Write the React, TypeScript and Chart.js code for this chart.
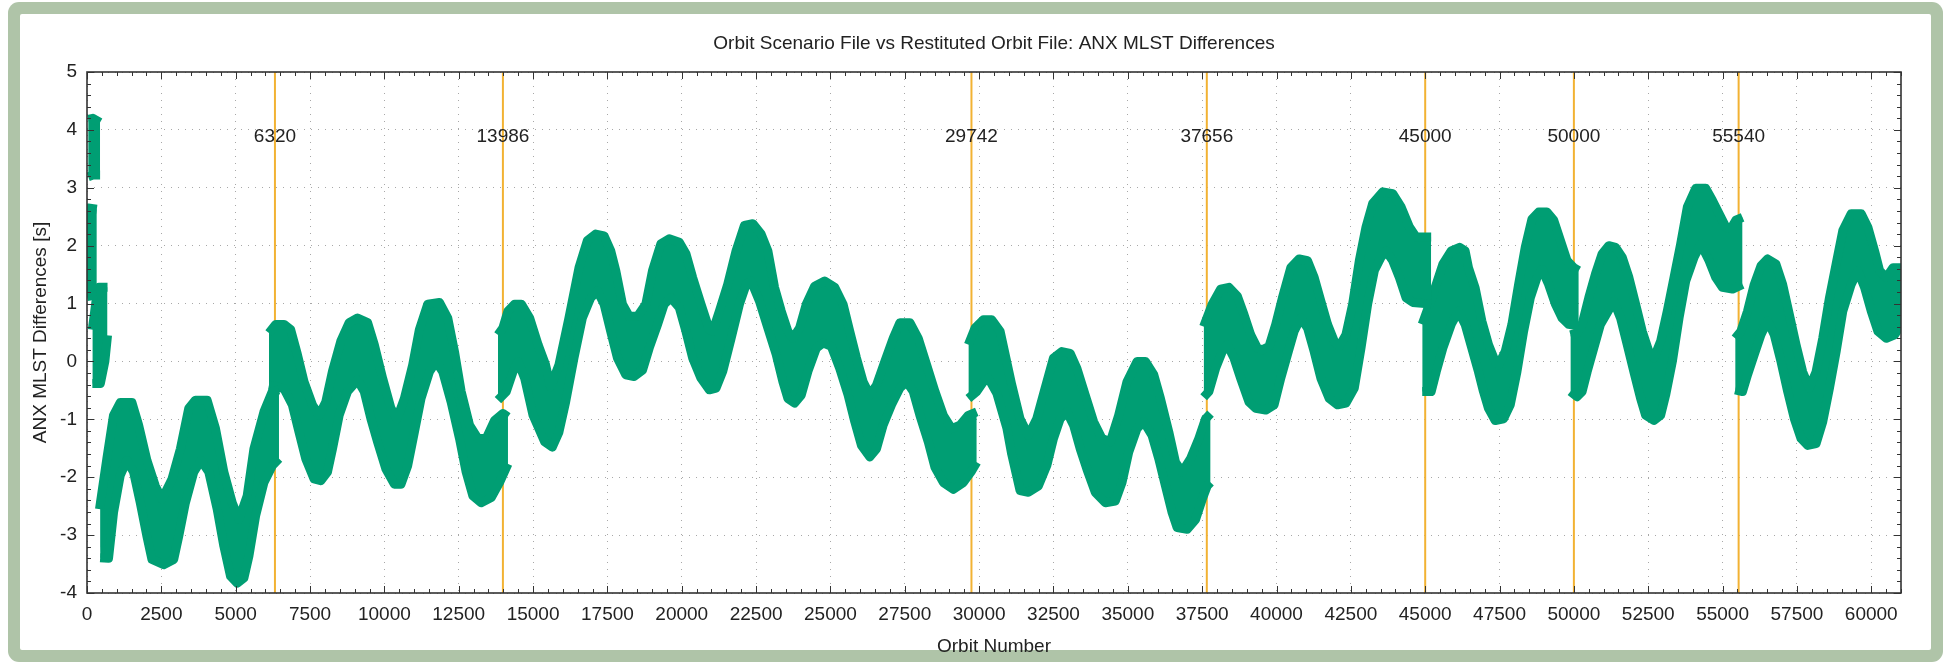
import { useEffect, useRef } from 'react';
import { Chart, registerables } from 'chart.js';

Chart.register(...registerables);

const TITLE = 'Orbit Scenario File vs Restituted Orbit File: ANX MLST Differences';
const X_TITLE = 'Orbit Number';
const Y_TITLE = 'ANX MLST Differences [s]';
const X_MIN = 0;
const X_MAX = 61000;
const Y_MIN = -4;
const Y_MAX = 5;
const X_MAJOR = 2500;
const X_MINOR = 500;
const Y_MAJOR = 1;
const Y_MINOR = 0.2;
const X_LAST_LABEL = 60000;

// vertical event markers (orbit numbers)
const MARKERS = [6320, 13986, 29742, 37656, 45000, 50000, 55540];
const MARKER_LABEL_Y = 3.88;

// Band envelopes per continuous segment: [orbit, value]
const A_TOP: number[][] = [[40, 4.18], [200, 4.2], [440, 4.13]];
const A_BOT: number[][] = [[40, 3.19], [200, 3.22], [440, 3.22]];

const B_TOP: number[][] = [[0, 1.98], [40, 2.65], [330, 2.63]];
const B_BOT: number[][] = [[0, 1.12], [330, 1.15]];

const C_TOP: number[][] = [[180, 0.55], [300, 1.03], [400, 1.28], [690, 1.28]];
const C_BOT: number[][] = [[180, -0.38], [450, -0.38], [600, 0.0], [690, 0.45]];

const D_TOP: number[][] = [
  [420, -2.55], [668, -1.68], [892, -0.93], [1117, -0.71], [1511, -0.71], [1735, -1.1],
  [2016, -1.71], [2297, -2.15], [2522, -2.38], [2859, -2.03], [3140, -1.51], [3421, -0.81],
  [3646, -0.67], [4040, -0.67], [4321, -1.16], [4602, -1.91], [4883, -2.44], [5108, -2.73],
  [5388, -2.32], [5613, -1.51], [5950, -0.87], [6231, -0.52], [6456, -0.49],
];
const D_BOT: number[][] = [
  [443, -3.39], [724, -3.4], [892, -2.61], [1117, -1.97], [1342, -1.71], [1567, -1.91],
  [1792, -2.44], [2016, -3.02], [2185, -3.42], [2578, -3.51], [2916, -3.42], [3084, -3.02],
  [3309, -2.44], [3590, -1.91], [3837, -1.71], [4096, -1.91], [4377, -2.55], [4602, -3.19],
  [4827, -3.71], [5051, -3.83], [5276, -3.74], [5445, -3.36], [5669, -2.67], [5950, -2.09],
  [6231, -1.8], [6456, -1.68],
];

const E_TOP: number[][] = [
  [6119, 0.49], [6344, 0.64], [6624, 0.64], [6849, 0.55], [7075, 0.12], [7299, -0.35],
  [7580, -0.75], [7805, -0.93], [8030, -0.7], [8255, -0.17], [8535, 0.35], [8816, 0.67],
  [9098, 0.75], [9435, 0.67], [9660, 0.29], [9941, -0.29], [10222, -0.81], [10424, -0.99],
  [10672, -0.64], [10953, -0.06], [11177, 0.55], [11458, 0.99], [11851, 1.02], [12132, 0.75],
  [12357, 0.17], [12582, -0.52], [12863, -1.1], [13144, -1.33], [13425, -1.33], [13706, -1.02],
  [13987, -0.9], [14156, -0.96],
];
const E_BOT: number[][] = [
  [6119, -0.41], [6399, -0.44], [6624, -0.47], [6906, -0.75], [7131, -1.22], [7356, -1.68],
  [7636, -2.03], [7861, -2.06], [8086, -1.91], [8255, -1.51], [8479, -0.93], [8760, -0.52],
  [9098, -0.32], [9322, -0.52], [9547, -0.99], [9772, -1.39], [10053, -1.86], [10334, -2.12],
  [10559, -2.12], [10784, -1.8], [11009, -1.22], [11233, -0.64], [11514, -0.18], [11739, 0.0],
  [11964, -0.18], [12245, -0.7], [12526, -1.33], [12750, -1.91], [12975, -2.32], [13256, -2.44],
  [13594, -2.35], [13875, -2.09], [14156, -1.77],
];

const F_TOP: number[][] = [
  [13819, 0.46], [13987, 0.58], [14156, 0.87], [14381, 0.99], [14606, 0.99], [14887, 0.75],
  [15168, 0.29], [15421, -0.06], [15589, -0.44], [15870, -0.06], [16207, 0.75], [16545, 1.62],
  [16826, 2.09], [17107, 2.2], [17388, 2.17], [17612, 1.91], [17781, 1.57], [18006, 0.99],
  [18231, 0.78], [18512, 0.78], [18793, 0.99], [19017, 1.57], [19298, 2.03], [19579, 2.12],
  [19917, 2.06], [20141, 1.86], [20366, 1.45], [20647, 0.99], [20928, 0.55], [21041, 0.52],
  [21265, 0.87], [21546, 1.33], [21827, 1.91], [22108, 2.35], [22389, 2.38], [22670, 2.2],
  [22895, 1.91], [23120, 1.28], [23345, 0.87], [23570, 0.52], [23738, 0.4], [23963, 0.58],
  [24188, 0.99], [24469, 1.3], [24806, 1.39], [25143, 1.28], [25424, 0.99], [25649, 0.52],
  [25874, 0.06], [26099, -0.35], [26323, -0.58], [26548, -0.41], [26829, 0.0], [27110, 0.4],
  [27335, 0.67], [27672, 0.67], [27953, 0.4], [28234, -0.06], [28515, -0.52], [28796, -0.93],
  [29077, -1.16], [29358, -1.1], [29639, -0.93], [29920, -0.87],
];
const F_BOT: number[][] = [
  [13819, -0.67], [14100, -0.52], [14325, -0.18], [14494, 0.0], [14718, -0.29], [14999, -0.93],
  [15392, -1.39], [15646, -1.48], [15870, -1.22], [16095, -0.7], [16376, 0.06], [16657, 0.75],
  [16938, 1.1], [17163, 1.22], [17388, 0.99], [17612, 0.52], [17837, 0.06], [18118, -0.23],
  [18399, -0.26], [18680, -0.15], [18905, 0.23], [19186, 0.64], [19411, 0.99], [19636, 1.1],
  [19917, 0.93], [20141, 0.52], [20366, 0.06], [20647, -0.29], [20928, -0.49], [21153, -0.46],
  [21378, -0.17], [21659, 0.4], [21940, 0.99], [22165, 1.33], [22333, 1.39], [22614, 1.04],
  [22895, 0.58], [23176, 0.12], [23401, -0.35], [23570, -0.64], [23794, -0.72], [24019, -0.58],
  [24244, -0.17], [24525, 0.23], [24750, 0.32], [25031, 0.26], [25312, -0.12], [25593, -0.58],
  [25818, -1.04], [26042, -1.45], [26323, -1.65], [26548, -1.51], [26773, -1.1], [27054, -0.75],
  [27335, -0.46], [27560, -0.35], [27785, -0.52], [28009, -0.93], [28290, -1.39], [28515, -1.83],
  [28796, -2.09], [29133, -2.21], [29470, -2.09], [29751, -1.89], [29920, -1.74],
];

const G_TOP: number[][] = [
  [29639, 0.29], [29864, 0.58], [30145, 0.72], [30426, 0.72], [30707, 0.52], [31095, -0.4],
  [31376, -0.99], [31657, -1.28], [31938, -0.99], [32219, -0.46], [32500, 0.06], [32781, 0.17],
  [33062, 0.14], [33287, -0.12], [33568, -0.58], [33849, -1.04], [34130, -1.33], [34411, -1.39],
  [34692, -0.93], [34973, -0.35], [35310, 0.0], [35591, 0.0], [35872, -0.23], [36097, -0.64],
  [36378, -1.22], [36603, -1.74], [36827, -1.91], [37108, -1.68], [37389, -1.33], [37614, -0.99],
  [37783, -0.9],
];
const G_BOT: number[][] = [
  [29639, -0.64], [29920, -0.52], [30145, -0.35], [30314, -0.29], [30595, -0.55], [30932, -1.15],
  [31095, -1.6], [31376, -2.23], [31657, -2.26], [31994, -2.15], [32275, -1.8], [32500, -1.33],
  [32725, -0.99], [32950, -0.87], [33175, -1.1], [33399, -1.51], [33624, -1.86], [33905, -2.26],
  [34243, -2.44], [34580, -2.41], [34805, -2.09], [35029, -1.57], [35310, -1.16], [35535, -1.04],
  [35816, -1.28], [36041, -1.68], [36266, -2.15], [36490, -2.61], [36659, -2.87], [36996, -2.9],
  [37277, -2.73], [37502, -2.38], [37670, -2.15], [37783, -2.09],
];

const H_TOP: number[][] = [
  [37550, 0.6], [37839, 0.99], [38120, 1.25], [38401, 1.28], [38682, 1.13], [38907, 0.81],
  [39132, 0.46], [39356, 0.23], [39525, 0.2], [39750, 0.26], [39975, 0.64], [40199, 1.1],
  [40480, 1.62], [40761, 1.77], [41042, 1.74], [41267, 1.45], [41492, 1.04], [41717, 0.64],
  [41942, 0.35], [42110, 0.26], [42335, 0.46], [42560, 0.99], [42785, 1.74], [43009, 2.32],
  [43234, 2.73], [43571, 2.93], [43909, 2.9], [44190, 2.67], [44471, 2.32], [44695, 2.15],
  [45201, 2.15],
];
const H_BOT: number[][] = [
  [37550, -0.62], [37727, -0.52], [37951, -0.12], [38176, 0.17], [38345, 0.29], [38570, 0.06],
  [38794, -0.29], [39075, -0.7], [39300, -0.81], [39637, -0.84], [39918, -0.75], [40143, -0.29],
  [40368, 0.12], [40593, 0.52], [40817, 0.75], [41042, 0.58], [41267, 0.17], [41492, -0.29],
  [41773, -0.64], [42054, -0.75], [42335, -0.72], [42616, -0.46], [42841, 0.23], [43065, 0.99],
  [43290, 1.57], [43515, 1.8], [43684, 1.91], [43909, 1.74], [44133, 1.45], [44358, 1.1],
  [44583, 1.02], [45201, 0.99],
];

const I_TOP: number[][] = [
  [44900, 0.64], [45145, 0.99], [45370, 1.33], [45594, 1.68], [45875, 1.91], [46156, 1.97],
  [46342, 1.91], [46455, 1.62], [46679, 1.27], [46904, 0.7], [47129, 0.29], [47354, 0.0],
  [47466, -0.06], [47691, 0.17], [47916, 0.64], [48141, 1.33], [48365, 1.97], [48590, 2.46],
  [48815, 2.58], [49096, 2.58], [49321, 2.44], [49546, 2.09], [49771, 1.74], [49995, 1.62],
  [50164, 1.57],
];
const I_BOT: number[][] = [
  [44900, -0.52], [45201, -0.52], [45370, -0.18], [45594, 0.23], [45875, 0.64], [46118, 0.87],
  [46342, 0.64], [46567, 0.23], [46792, -0.18], [46960, -0.52], [47129, -0.81], [47354, -1.02],
  [47635, -0.99], [47860, -0.75], [48084, -0.18], [48309, 0.52], [48534, 1.1], [48759, 1.45],
  [48927, 1.59], [49152, 1.33], [49377, 0.99], [49602, 0.75], [49827, 0.64], [50164, 0.61],
];

const J_TOP: number[][] = [
  [49883, 0.46], [50108, 0.49], [50276, 0.64], [50501, 1.1], [50726, 1.51], [50951, 1.86],
  [51175, 2.0], [51400, 1.97], [51625, 1.8], [51850, 1.45], [52075, 0.99], [52300, 0.52],
  [52524, 0.17], [52693, 0.06], [52918, 0.35], [53142, 0.87], [53367, 1.45], [53592, 2.03],
  [53817, 2.67], [54098, 2.99], [54435, 2.99], [54660, 2.78], [54885, 2.55], [55110, 2.32],
  [55278, 2.29], [55447, 2.44], [55672, 2.49],
];
const J_BOT: number[][] = [
  [49883, -0.52], [50108, -0.61], [50276, -0.52], [50445, -0.18], [50670, 0.23], [50894, 0.64],
  [51344, 1.04], [51569, 0.75], [51794, 0.29], [52019, -0.18], [52244, -0.64], [52412, -0.93],
  [52693, -1.02], [52918, -0.93], [53086, -0.58], [53311, 0.0], [53536, 0.75], [53761, 1.39],
  [54042, 1.8], [54267, 2.03], [54548, 1.74], [54772, 1.45], [54997, 1.28], [55334, 1.25],
  [55672, 1.33],
];

const K_TOP: number[][] = [
  [55424, 0.4], [55615, 0.52], [55840, 0.87], [56065, 1.33], [56290, 1.65], [56514, 1.77],
  [56795, 1.68], [57020, 1.33], [57245, 0.81], [57470, 0.29], [57694, -0.18], [57919, -0.46],
  [58144, -0.18], [58369, 0.4], [58594, 1.1], [58818, 1.68], [59043, 2.26], [59324, 2.55],
  [59662, 2.55], [59886, 2.32], [60111, 1.91], [60280, 1.57], [60505, 1.45], [60730, 1.62],
  [61011, 1.62],
];
const K_BOT: number[][] = [
  [55424, -0.49], [55671, -0.52], [55840, -0.23], [56065, 0.12], [56290, 0.46], [56514, 0.7],
  [56739, 0.46], [56964, 0.0], [57189, -0.52], [57414, -0.99], [57638, -1.33], [57863, -1.45],
  [58144, -1.42], [58369, -1.04], [58594, -0.46], [58818, 0.17], [59043, 0.87], [59324, 1.33],
  [59549, 1.57], [59774, 1.28], [59999, 0.87], [60224, 0.52], [60505, 0.4], [60786, 0.46],
  [61011, 0.64],
];

const SEGMENTS: number[][][][] = [
  [A_TOP, A_BOT], [B_TOP, B_BOT], [C_TOP, C_BOT], [D_TOP, D_BOT], [E_TOP, E_BOT],
  [F_TOP, F_BOT], [G_TOP, G_BOT], [H_TOP, H_BOT], [I_TOP, I_BOT], [J_TOP, J_BOT], [K_TOP, K_BOT],
];

const GREEN = '#009e73';
const ORANGE = '#f2b233';
const SAGE = '#afc4a8';
const TEXT = '#222222';
const FONT_FAMILY = '"Liberation Sans", Arial, Helvetica, sans-serif';
const FONT_SIZE = 19;
const BAND_EDGE = 9;

const W = 1946;
const H = 663;

export default function App() {
  const ref = useRef<HTMLCanvasElement | null>(null);

  useEffect(() => {
    document.body.style.margin = '0';
    const canvas = ref.current;
    if (!canvas) return;

    const datasets: any[] = [];
    SEGMENTS.forEach(([top, bot]) => {
      const lowerIndex = datasets.length;
      const common = {
        borderColor: GREEN,
        borderWidth: BAND_EDGE,
        borderJoinStyle: 'round',
        borderCapStyle: 'butt',
        pointRadius: 0,
        tension: 0,
        order: 0,
      };
      datasets.push({ ...common, data: bot.map(([x, y]) => ({ x, y })), fill: false });
      datasets.push({
        ...common,
        data: top.map(([x, y]) => ({ x, y })),
        backgroundColor: GREEN,
        fill: lowerIndex,
      });
    });
    MARKERS.forEach((m) => {
      datasets.push({
        data: [{ x: m, y: Y_MIN }, { x: m, y: Y_MAX }],
        borderColor: ORANGE,
        borderWidth: 2,
        pointRadius: 0,
        fill: false,
        order: 10,
      });
    });

    const frame = {
      id: 'frame',
      beforeDraw(chart: any) {
        const c = chart.ctx;
        c.save();
        c.fillStyle = '#ffffff';
        c.fillRect(0, 0, chart.width, chart.height);
        c.fillStyle = SAGE;
        c.beginPath();
        (c as any).roundRect(8, 2, 1935, 660, 11);
        c.fill();
        c.fillStyle = '#ffffff';
        c.beginPath();
        (c as any).roundRect(20, 14, 1911, 636, 2);
        c.fill();
        c.restore();
      },
      afterDatasetsDraw(chart: any) {
        const c = chart.ctx;
        const a = chart.chartArea;
        const xs = chart.scales.x;
        const ys = chart.scales.y;
        c.save();
        c.strokeStyle = '#333333';
        c.lineWidth = 1;
        c.beginPath();
        for (let v = X_MIN; v <= X_MAX + 1e-6; v += X_MINOR) {
          const px = Math.round(xs.getPixelForValue(v)) + 0.5;
          const len = v % X_MAJOR === 0 ? 7 : 4;
          c.moveTo(px, a.bottom);
          c.lineTo(px, a.bottom - len);
          c.moveTo(px, a.top);
          c.lineTo(px, a.top + len);
        }
        const n = Math.round((Y_MAX - Y_MIN) / Y_MINOR);
        for (let i = 0; i <= n; i++) {
          const v = Y_MIN + i * Y_MINOR;
          const py = Math.round(ys.getPixelForValue(v)) + 0.5;
          const len = i % Math.round(Y_MAJOR / Y_MINOR) === 0 ? 7 : 4;
          c.moveTo(a.left, py);
          c.lineTo(a.left + len, py);
          c.moveTo(a.right, py);
          c.lineTo(a.right - len, py);
        }
        c.stroke();
        c.lineWidth = 1.6;
        c.strokeRect(a.left, a.top, a.right - a.left, a.bottom - a.top);
        c.restore();
      },
      afterDraw(chart: any) {
        const c = chart.ctx;
        const a = chart.chartArea;
        const xs = chart.scales.x;
        const ys = chart.scales.y;
        c.save();
        c.fillStyle = TEXT;
        c.font = `${FONT_SIZE}px ${FONT_FAMILY}`;
        c.textAlign = 'center';
        c.textBaseline = 'middle';
        c.fillText(TITLE, (a.left + a.right) / 2, 44);
        const ly = ys.getPixelForValue(MARKER_LABEL_Y);
        MARKERS.forEach((m) => {
          c.fillText(String(m), xs.getPixelForValue(m), ly);
        });
        c.restore();
      },
    };

    const font = { family: FONT_FAMILY, size: FONT_SIZE };

    const chart = new Chart(canvas, {
      type: 'line',
      data: { datasets },
      options: {
        responsive: false,
        animation: false,
        events: [],
        layout: { padding: { left: 0, right: 45, top: 72, bottom: 0 } },
        plugins: {
          legend: { display: false },
          tooltip: { enabled: false },
          title: { display: false },
        },
        scales: {
          x: {
            type: 'linear',
            min: X_MIN,
            max: X_MAX,
            afterFit: (s: any) => {
              s.height = 70;
            },
            afterBuildTicks: (s: any) => {
              const t: any[] = [];
              for (let v = X_MIN; v <= X_LAST_LABEL; v += X_MAJOR) t.push({ value: v });
              s.ticks = t;
            },
            ticks: {
              autoSkip: false,
              maxRotation: 0,
              minRotation: 0,
              padding: 10,
              color: TEXT,
              font,
              callback: (v: any) => String(v),
            },
            grid: { color: '#a8a8a8', lineWidth: 1, drawTicks: false },
            border: { display: false, dash: [1, 6] },
            title: {
              display: true,
              text: X_TITLE,
              color: TEXT,
              font,
              padding: { top: 0, bottom: 5 },
            },
          },
          y: {
            type: 'linear',
            min: Y_MIN,
            max: Y_MAX,
            afterFit: (s: any) => {
              s.width = 87;
            },
            afterBuildTicks: (s: any) => {
              const t: any[] = [];
              for (let v = Y_MIN; v <= Y_MAX; v += Y_MAJOR) t.push({ value: v });
              s.ticks = t;
            },
            ticks: {
              autoSkip: false,
              padding: 10,
              color: TEXT,
              font,
              callback: (v: any) => String(v),
            },
            grid: { color: '#a8a8a8', lineWidth: 1, drawTicks: false },
            border: { display: false, dash: [1, 6] },
            title: {
              display: true,
              text: Y_TITLE,
              color: TEXT,
              font,
              padding: { top: 29, bottom: 0 },
            },
          },
        },
      },
      plugins: [frame],
    } as any);

    return () => {
      chart.destroy();
    };
  }, []);

  return (
    <div style={{ width: W, height: H, position: 'relative', background: '#fff' }}>
      <canvas ref={ref} width={W} height={H} style={{ display: 'block', width: W, height: H }} />
    </div>
  );
}
